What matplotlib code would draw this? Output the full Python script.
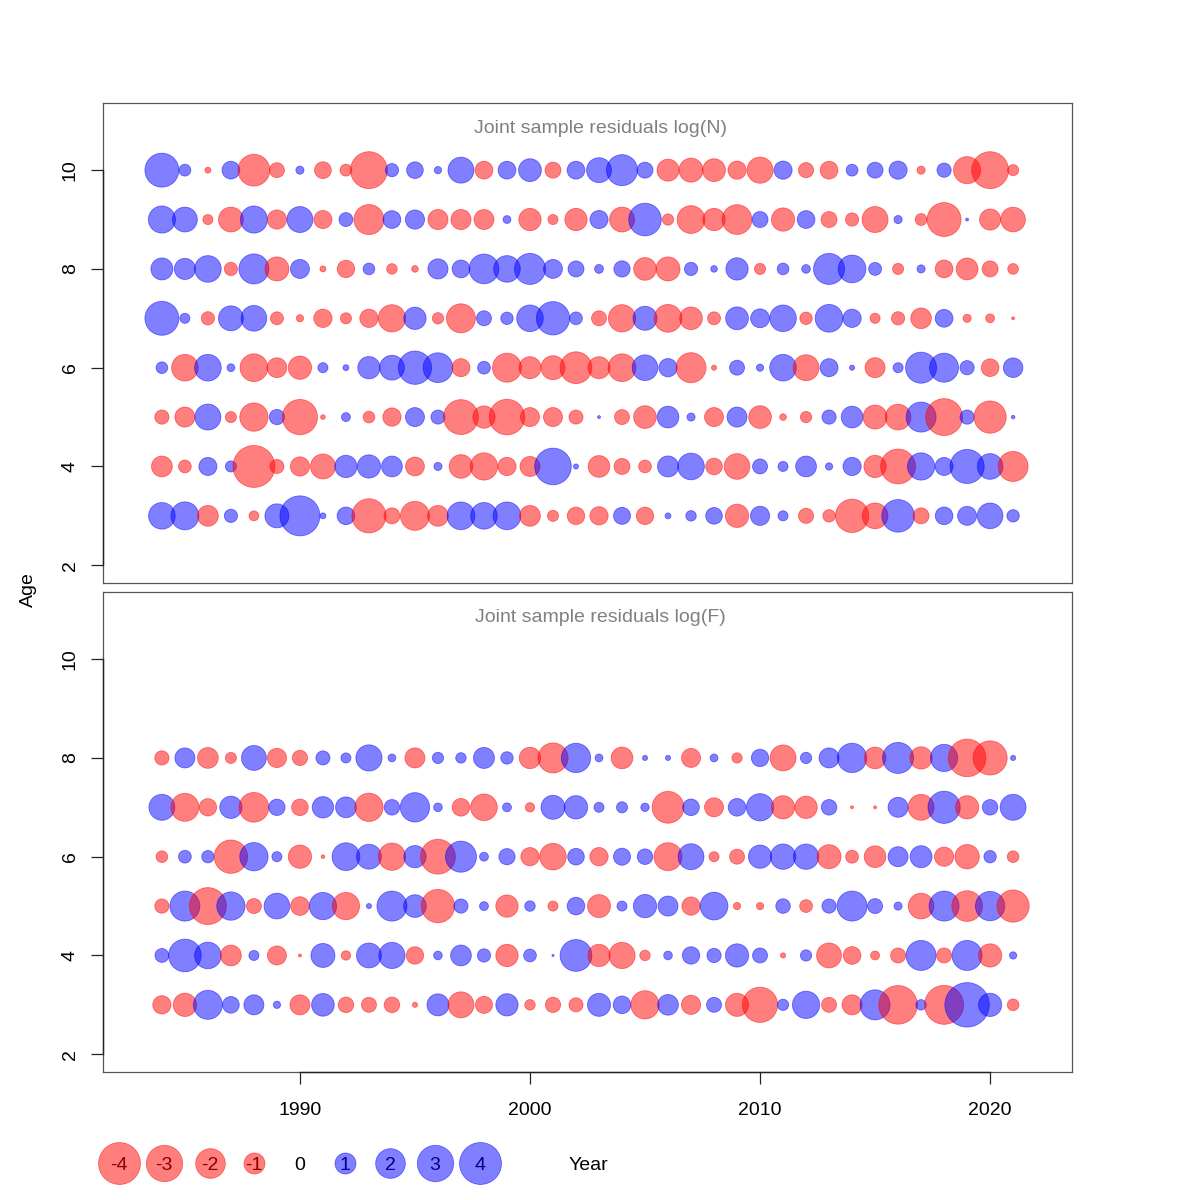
import matplotlib
matplotlib.use('Agg')
import matplotlib.pyplot as plt
import numpy as np

plt.rcParams['font.family'] = ['Liberation Sans', 'DejaVu Sans']

years = list(range(1984, 2022))

# Joint sample residuals log(N), ages 3..10 (one list per age, one value per year)
ages_n = [3, 4, 5, 6, 7, 8, 9, 10]
res_n = {
    10: [2.62, 0.32, -0.08, 0.72, -2.3, -0.51, 0.15, -0.64, -0.32, -3.1, 0.4, 0.63, 0.12, 1.53, -0.72, 0.72, 1.18, -0.58, 0.72,
         1.41, 2.19, 0.58, -1.1, -1.31, -1.18, -0.75, -1.55, 0.75, -0.52, -0.72, 0.32, 0.58, 0.75, -0.15, 0.46, -1.67, -3.1, -0.28],
    9: [1.67, 1.4, -0.23, -1.4, 1.67, -0.84, 1.53, -0.74, 0.44, -2.05, 0.72, 0.84, -0.92, -0.92, -0.9, 0.14, -1.13, -0.23, -1.13,
        0.75, -1.41, 2.42, -0.29, -1.75, -1.13, -2.01, 0.58, -1.23, 0.72, -0.58, -0.4, -1.53, 0.15, -0.32, -2.62, 0.02, -1.01, -1.38],
    8: [1.1, 1.01, 1.61, -0.4, 2.05, -1.31, 0.82, -0.08, -0.69, 0.31, -0.25, -0.1, 0.92, 0.72, 2.01, 1.61, 2.19, 0.81, 0.58,
        0.18, 0.6, -1.17, -1.31, 0.4, 0.1, 1.13, -0.28, 0.31, 0.17, 2.19, 1.75, 0.38, -0.28, 0.15, -0.72, -1.08, -0.58, -0.26],
    7: [2.62, 0.23, -0.4, 1.41, 1.5, -0.38, -0.12, -0.76, -0.28, -0.76, -1.69, 1.13, -0.29, -1.91, 0.51, 0.35, 1.61, 2.53, 0.37,
        -0.51, -1.69, 1.31, -1.75, -1.17, -0.38, 1.18, 0.81, 1.61, -0.35, 1.75, 0.76, -0.23, -0.4, -0.97, 0.72, -0.15, -0.18, -0.02],
    6: [0.31, -1.61, 1.61, 0.14, -1.75, -0.89, -1.23, 0.23, 0.08, 1.13, 1.4, 2.53, 2.01, -0.74, 0.37, -1.91, -1.1, -1.31, -2.3,
        -1.1, -1.75, 1.5, 0.76, -2.05, -0.06, 0.51, 0.12, 1.61, -1.53, 0.74, 0.06, -0.91, 0.23, 2.19, 1.91, 0.46, -0.71, 0.87],
    5: [-0.46, -0.91, 1.53, -0.28, -1.82, 0.53, -2.82, -0.05, 0.18, -0.31, -0.76, 0.82, 0.45, -2.76, -1.13, -2.88, -0.82, -0.82, -0.45,
        0.02, -0.51, -1.17, 1.07, 0.15, -0.82, 0.91, -1.17, -0.1, -0.29, 0.46, 1.07, -1.31, -1.5, 2.05, -3.1, 0.46, -2.36, 0.03],
    4: [-0.98, -0.37, 0.74, 0.28, -4.0, -0.45, -0.84, -1.41, 1.13, 1.23, 0.98, -0.81, 0.15, -1.27, -1.69, -0.76, -0.91, 3.05, 0.06,
        -1.07, -0.58, -0.37, 1.0, 1.61, -0.63, -1.5, 0.51, 0.23, 0.98, 0.12, 0.76, -1.13, -2.76, 1.69, 0.74, 2.65, 1.5, -2.05],
    3: [1.61, 1.78, -0.98, 0.4, -0.22, 1.31, 3.63, 0.08, 0.71, -2.65, -0.58, -1.91, -0.98, 1.75, 1.61, 1.75, -0.98, -0.28, -0.69,
        -0.76, 0.66, -0.69, 0.08, 0.25, 0.63, -1.23, 0.84, 0.23, -0.52, -0.35, -2.53, -1.5, 2.42, -0.58, 0.71, 0.82, 1.5, 0.35],
}

# Joint sample residuals log(F), ages 3..8
ages_f = [3, 4, 5, 6, 7, 8]
res_f = {
    8: [-0.46, 0.91, -0.98, -0.28, 1.41, -0.84, -0.53, 0.45, 0.23, 1.56, 0.14, -0.91, 0.29, 0.25, 1.0, 0.35, -1.04, -2.05, 1.96,
        0.14, -1.07, 0.06, 0.06, -0.82, 0.14, -0.24, 0.69, -1.53, 0.29, 0.91, 1.96, -1.07, 2.19, -1.13, 1.69, -3.22, -2.65, 0.06],
    7: [1.53, -1.78, -0.69, 1.13, -2.01, 0.61, -0.63, 1.04, 0.98, -1.82, 0.55, 1.96, 0.17, -0.71, -1.61, 0.18, -0.2, 1.31, 1.24,
        0.23, 0.28, 0.16, -2.3, 0.63, -0.82, 0.71, 1.69, -1.23, -1.13, 0.55, -0.02, -0.02, 0.91, -1.53, 2.36, -1.23, 0.55, 1.53],
    6: [-0.31, 0.37, 0.35, -2.53, 1.82, 0.23, -1.23, -0.03, 1.75, 1.41, -1.69, 1.13, -2.76, 2.19, 0.18, 0.6, -0.76, -1.61, 0.63,
        -0.76, 0.66, 0.55, -1.78, 1.53, -0.23, -0.51, 1.23, 1.46, 1.46, -1.31, -0.38, -1.07, 0.91, 1.1, -0.84, -1.35, 0.35, -0.31],
    5: [-0.46, 2.05, -3.1, 1.82, -0.51, 1.5, -0.79, 1.69, -1.69, 0.06, 2.05, 1.17, -2.53, 0.46, 0.18, -1.13, 0.25, -0.23, 0.71,
        -1.2, 0.23, 1.23, 0.91, -0.76, 1.75, -0.12, -0.12, 0.48, -0.37, 0.46, 2.05, 0.51, 0.15, -1.5, 2.05, -2.14, 1.96, -2.36],
    4: [0.44, 2.42, 1.61, -0.98, 0.23, -0.82, -0.02, 1.31, -0.2, 1.41, 1.56, -0.69, 0.17, 0.98, 0.4, -1.13, 0.37, 0.01, 2.3,
        -1.13, -1.56, -0.25, 0.17, 0.69, 0.46, 1.23, 0.51, -0.06, 0.29, -1.41, -0.71, -0.18, -0.51, 2.05, -0.51, 2.05, -1.23, 0.12],
    3: [-0.76, -1.23, 1.91, 0.63, 0.91, 0.12, -0.91, 1.17, -0.55, -0.51, -0.55, -0.06, 1.1, -1.53, -0.66, 1.13, -0.25, -0.53, -0.45,
        1.2, 0.71, -1.82, 0.97, -0.84, 0.51, -1.21, -2.82, 0.29, 1.69, -0.51, -0.91, 2.05, -3.39, 0.25, -3.45, 4.49, 1.23, -0.31],
}

legend_vals = [-4, -3, -2, -1, 0, 1, 2, 3, 4]
x_ticks = [1990, 2000, 2010, 2020]
y_ticks = [2, 4, 6, 8, 10]

# bubble area proportional to |residual|; 4 -> about 42 px wide
S_PER_UNIT = 228.0
RED = (1, 0, 0, 0.5)
BLUE = (0, 0, 1, 0.5)
XLIM = (1981.44, 2023.56)
YLIM = (1.64, 11.36)


def bubbles(ax, ages, res):
    for a in ages:
        vals = np.array(res[a])
        assert len(vals) == len(years)
        cols = [BLUE if v > 0 else RED for v in vals]
        ax.scatter(years, [a] * len(years), s=np.abs(vals) * S_PER_UNIT, c=cols,
                   edgecolors=cols, linewidths=0.6, zorder=3)


fig = plt.figure(figsize=(12, 12), dpi=100)
ax1 = fig.add_axes([103 / 1200, 1 - 583 / 1200, 969 / 1200, 480 / 1200])
ax2 = fig.add_axes([103 / 1200, 1 - 1072 / 1200, 969 / 1200, 480 / 1200])

bubbles(ax1, ages_n, res_n)
bubbles(ax2, ages_f, res_f)

for ax, title in [(ax1, 'Joint sample residuals log(N)'), (ax2, 'Joint sample residuals log(F)')]:
    ax.set_xlim(*XLIM)
    ax.set_ylim(*YLIM)
    ax.set_yticks(y_ticks)
    ax.set_yticklabels([str(t) for t in y_ticks], rotation=90, va='center')
    ax.tick_params(axis='both', direction='out', length=8.5, width=0.9, labelsize=14, pad=9, color='#222222')
    for sp in ax.spines.values():
        sp.set_color('#555555')
        sp.set_linewidth(0.9)
    # R style axis line between the outer ticks
    ax.plot([XLIM[0], XLIM[0]], [y_ticks[0], y_ticks[-1]], color='#222222', lw=1.0, clip_on=False, zorder=4)
    ax.text(2003.05, 10.85, title, ha='center', va='center', color='#808080', fontsize=14)

ax1.tick_params(axis='x', bottom=False, labelbottom=False)
ax2.set_xticks(x_ticks)
ax2.tick_params(axis='x', pad=13)
ax2.plot([x_ticks[0], x_ticks[-1]], [YLIM[0], YLIM[0]], color='#222222', lw=1.0, clip_on=False, zorder=4)

fig.text(28 / 1200, 1 - 590 / 1200, 'Age', rotation=90, ha='center', va='center', fontsize=14)
fig.text(588 / 1200, 1 - 1165 / 1200, 'Year', ha='center', va='center', fontsize=14)

# size legend below the lower panel
lax = fig.add_axes([0, 0, 1, 1], facecolor='none')
lax.set_xlim(0, 1200)
lax.set_ylim(1200, 0)
lax.axis('off')
leg_x = [119, 164, 210, 254, 300, 345, 390, 435, 480]
for x, v in zip(leg_x, legend_vals):
    if v != 0:
        col = BLUE if v > 0 else RED
        lax.scatter([x], [1163], s=abs(v) * S_PER_UNIT, c=[col], edgecolors=[col], linewidths=0.6)
        tcol = '#00008B' if v > 0 else '#8B0000'
    else:
        tcol = 'black'
    lax.text(x, 1165, str(v), ha='center', va='center', fontsize=14, color=tcol)

fig.savefig('out.png', dpi=100)
